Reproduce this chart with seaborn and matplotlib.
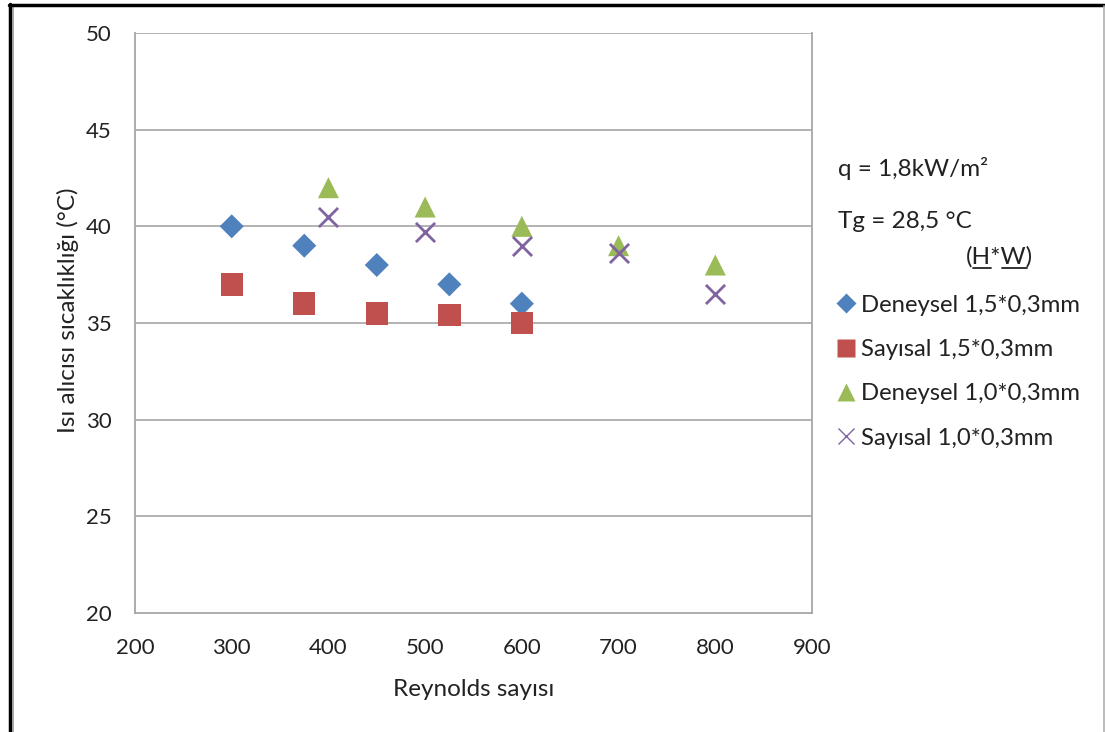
import numpy as np
import pandas as pd
import matplotlib
matplotlib.use("Agg")
import matplotlib.pyplot as plt
from matplotlib.lines import Line2D
import seaborn as sns

# Measured heat-sink temperatures against Reynolds number
re_15 = [300, 375, 450, 525, 600]
deneysel_15 = [40.0, 39.0, 38.0, 37.0, 36.0]
sayisal_15 = [37.0, 36.0, 35.5, 35.4, 35.0]

re_10 = [400, 500, 600, 700, 800]
deneysel_10 = [42.0, 41.0, 40.0, 39.0, 38.0]
sayisal_10 = [40.5, 39.7, 39.0, 38.6, 36.5]

series_names = ["Deneysel 1,5*0,3mm", "Sayısal 1,5*0,3mm",
                "Deneysel 1,0*0,3mm", "Sayısal 1,0*0,3mm"]
series_colors = ["#4F81BD", "#C0504D", "#9BBB59", "#8064A2"]
series_markers = ["D", "s", "^", "X"]

x_ticks = [200, 300, 400, 500, 600, 700, 800, 900]
y_ticks = [20, 25, 30, 35, 40, 45, 50]

frames = []
for name, xs, ys in zip(series_names,
                        [re_15, re_15, re_10, re_10],
                        [deneysel_15, sayisal_15, deneysel_10, sayisal_10]):
    frames.append(pd.DataFrame({"Re": xs, "T": ys, "seri": name}))
df = pd.concat(frames, ignore_index=True)

sns.set_theme(style="white")
plt.rcParams["font.family"] = ["Lato", "DejaVu Sans"]

FS = 17.5      # body text
FS_LEG = 17.2  # legend entries
FS_TICK = 16   # tick labels
TXT = "#222222"

fig = plt.figure(figsize=(11.05, 7.32), dpi=100)
ax = fig.add_axes([135 / 1105, 1 - 613 / 732, 677 / 1105, 580 / 732])

grid_c = "#A6A6A6"
for yv in y_ticks[1:]:
    ax.axhline(yv, color=grid_c, lw=1.2, zorder=0)

sizes = {"D": 150, "s": 260, "^": 230}
for name, col, mk in zip(series_names, series_colors, series_markers):
    sub = df[df["seri"] == name]
    if mk == "X":
        sns.scatterplot(data=sub, x="Re", y="T", ax=ax, marker="x", s=190,
                        color=col, linewidth=2.0, zorder=3, legend=False)
    else:
        sns.scatterplot(data=sub, x="Re", y="T", ax=ax, marker=mk, s=sizes[mk],
                        color=col, edgecolor="none", zorder=3, legend=False)

ax.set_xlim(200, 900)
ax.set_ylim(20, 50)
ax.set_xticks(x_ticks)
ax.set_yticks(y_ticks)
ax.tick_params(axis="both", which="major", labelsize=FS_TICK,
               length=7, width=1.2, direction="out",
               colors=grid_c, labelcolor=TXT)
ax.tick_params(axis="x", pad=11)
ax.tick_params(axis="y", pad=10)
for sp in ax.spines.values():
    sp.set_color(grid_c)
    sp.set_linewidth(1.3)
ax.spines["top"].set_visible(False)

ax.set_xlabel("Reynolds sayısı", fontsize=FS, color=TXT, labelpad=15)
ax.set_ylabel("Isı alıcısı sıcaklıklığı (°C)", fontsize=FS, color=TXT)
ax.yaxis.set_label_coords((79 - 135) / 677, 0.522)

# Conditions text
fig.text(838 / 1105, 1 - 168 / 732, "q = 1,8kW/m²", fontsize=FS,
         color=TXT, va="center", ha="left")
fig.text(838 / 1105, 1 - 222 / 732, "Tg = 28,5 °C", fontsize=FS,
         color=TXT, va="center", ha="left")
hw = fig.text(966 / 1105, 1 - 257 / 732, "(H*W)", fontsize=FS,
              color=TXT, va="center", ha="left")

# Underline H and W inside "(H*W)"
fig.canvas.draw()
r = fig.canvas.get_renderer()

def text_width(s):
    t = fig.text(0, 0, s, fontsize=FS)
    w = t.get_window_extent(renderer=r).width
    t.remove()
    return w

bb = hw.get_window_extent(renderer=r)
x0 = bb.x0
y_ul = (1 - 268 / 732) * fig.bbox.height
for pre, ch in [("(", "H"), ("(H*", "W")]:
    a = x0 + text_width(pre)
    b = a + text_width(ch)
    fig.add_artist(Line2D([a / fig.bbox.width, b / fig.bbox.width],
                          [y_ul / fig.bbox.height] * 2,
                          transform=fig.transFigure, color=TXT, lw=1.3))

handles = []
for name, col, mk in zip(series_names, series_colors, series_markers):
    if mk == "X":
        handles.append(Line2D([], [], ls="none", marker="x", color=col,
                              markersize=12, markeredgewidth=1.0, label=name))
    else:
        handles.append(Line2D([], [], ls="none", marker=mk, color=col,
                              markeredgecolor="none",
                              markersize={"D": 10, "s": 13, "^": 13}[mk],
                              label=name))
fig.legend(handles=handles, loc="upper left",
           bbox_to_anchor=(822 / 1105, 1 - 285 / 732),
           frameon=False, fontsize=FS_LEG, labelspacing=0.98,
           handletextpad=0.05, handlelength=1.2, borderaxespad=0,
           labelcolor=TXT)

# Outer frame of the figure
fig.add_artist(Line2D([10 / 1105, 10 / 1105], [0, 1 - 4 / 732],
                      transform=fig.transFigure, color="black", lw=2.5))
fig.add_artist(Line2D([12.5 / 1105, 12.5 / 1105], [0, 1 - 5 / 732],
                      transform=fig.transFigure, color="#9A9A9A", lw=1.2))
fig.add_artist(Line2D([9 / 1105, 1104 / 1105], [1 - 5 / 732, 1 - 5 / 732],
                      transform=fig.transFigure, color="black", lw=2.5))
fig.add_artist(Line2D([1103.5 / 1105, 1103.5 / 1105], [0, 1 - 6 / 732],
                      transform=fig.transFigure, color="#B0B0B0", lw=1.2))

fig.savefig("out.png", dpi=100)
